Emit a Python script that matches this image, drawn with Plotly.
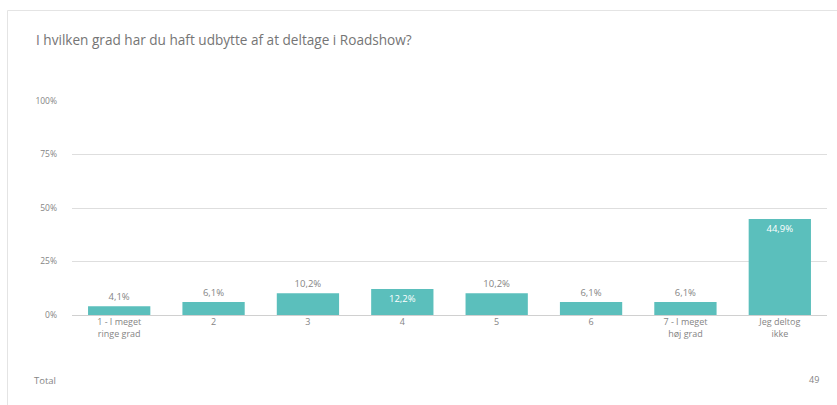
import plotly.graph_objects as go

# Survey results: share of respondents per answer option
categories = [
    "1 - I meget<br>ringe grad", "2", "3", "4", "5", "6",
    "7 - I meget<br>høj grad", "Jeg deltog<br>ikke",
]
shares = [4.1, 6.1, 10.2, 12.2, 10.2, 6.1, 6.1, 44.9]
label_inside = [False, False, False, True, False, False, False, True]
y_ticks = [0, 25, 50, 75, 100]
y_tick_labels = ["0%", "25%", "50%", "75%", "100%"]
title_text = "I hvilken grad har du haft udbytte af at deltage i Roadshow?"
total_label = "Total"
total_count = 49

W, H = 837, 405
ML, MR, MT, MB = 72, 10, 101, 90
PW, PH = W - ML - MR, H - MT - MB

def px_x(x):
    return (x - ML) / PW

def px_y(y):
    return (H - MB - y) / PH

BAR = "#5BBFBC"
GREY = "#858585"
FONT = "Open Sans"

texts = [f"{v:.1f}%".replace(".", ",") for v in shares]
fig = go.Figure(
    go.Bar(
        x=categories,
        y=shares,
        marker=dict(color=BAR, line=dict(width=0)),
        text=texts,
        textposition=["inside" if i else "outside" for i in label_inside],
        insidetextanchor="end",
        textfont=dict(family=FONT, size=9.5),
        insidetextfont=dict(family=FONT, size=9.5, color="white"),
        outsidetextfont=dict(family=FONT, size=9.5, color=GREY),
        cliponaxis=False,
        hoverinfo="skip",
    )
)

fig.update_layout(
    width=W,
    height=H,
    margin=dict(l=ML, r=MR, t=MT, b=MB),
    paper_bgcolor="white",
    plot_bgcolor="white",
    bargap=0.34,
    showlegend=False,
    uniformtext=dict(minsize=9, mode="show"),
    font=dict(family=FONT, color=GREY),
    xaxis=dict(
        showgrid=False,
        showline=False,
        zeroline=False,
        tickfont=dict(family=FONT, size=9, color=GREY),
        ticks="",
    ),
    yaxis=dict(
        range=[0, 100],
        tickvals=y_ticks,
        ticktext=y_tick_labels,
        showgrid=True,
        gridcolor="#dedede",
        gridwidth=1,
        zeroline=True,
        zerolinecolor="#d0d0d0",
        zerolinewidth=1,
        tickfont=dict(family=FONT, size=8.5, color=GREY),
        ticklabelstandoff=14,
        showline=False,
    ),
    shapes=[
        dict(
            type="rect", xref="paper", yref="paper",
            x0=px_x(7.5), x1=px_x(850), y0=px_y(420), y1=px_y(10.5),
            line=dict(color="#e4e4e4", width=1), fillcolor="rgba(0,0,0,0)",
            layer="below",
        )
    ],
    annotations=[
        dict(
            text=title_text, xref="paper", yref="paper",
            x=px_x(34), y=px_y(40), xanchor="left", yanchor="middle",
            showarrow=False, font=dict(family=FONT, size=13.6, color="#757575"),
        ),
        dict(
            text=total_label, xref="paper", yref="paper",
            x=px_x(32), y=px_y(380), xanchor="left", yanchor="middle",
            showarrow=False, font=dict(family=FONT, size=9.5, color=GREY),
        ),
        dict(
            text=str(total_count), xref="paper", yref="paper",
            x=px_x(821), y=px_y(379), xanchor="right", yanchor="middle",
            showarrow=False, font=dict(family=FONT, size=9, color=GREY),
        ),
    ],
)

fig.write_html("out.html")
